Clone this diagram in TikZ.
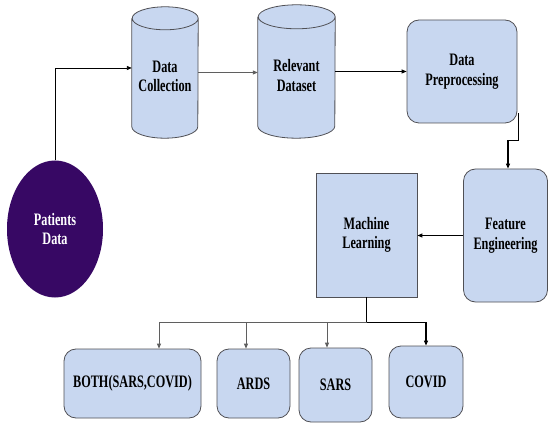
\documentclass[tikz,border=0pt]{standalone}
\usepackage{fontspec}
\setmainfont{Liberation Serif}[FakeStretch=0.7]
\usetikzlibrary{arrows.meta,shapes.geometric}
\definecolor{boxfill}{RGB}{200,215,240}
\definecolor{boxline}{RGB}{80,80,85}
\definecolor{purp}{RGB}{55,8,100}
\definecolor{linegray}{RGB}{95,95,95}
\tikzset{
  x=1pt,y=1pt,
  lbl/.style={font=\fontsize{17.5}{19.5}\selectfont\bfseries, align=center, text=black},
  rbox/.style={lbl, draw=boxline, fill=boxfill, line width=0.8pt, rounded corners=12pt, inner sep=0pt},
  sbox/.style={lbl, draw=boxline, fill=boxfill, line width=0.8pt, inner sep=0pt},
  cylbox/.style={lbl, inner sep=0pt},
  arr/.style={-{Triangle[length=5pt,width=4pt]}, line width=0.9pt, draw=black},
  arrg/.style={-{Triangle[length=5pt,width=4pt]}, line width=0.8pt, draw=linegray},
}
\newcommand{\mycyl}[4]{% node, width, height, ellipse ry
  \fill[boxfill] ([yshift=-#4]#1.north west) -- ([yshift=#4]#1.south west)
    arc[start angle=180,end angle=360,x radius=#2/2,y radius=#4]
    -- ([yshift=-#4]#1.north east)
    arc[start angle=0,end angle=180,x radius=#2/2,y radius=#4] -- cycle;
  \draw[boxline,line width=0.8pt] ([yshift=-#4]#1.north west) -- ([yshift=#4]#1.south west)
    arc[start angle=180,end angle=360,x radius=#2/2,y radius=#4]
    -- ([yshift=-#4]#1.north east)
    arc[start angle=0,end angle=360,x radius=#2/2,y radius=#4];
}
\begin{document}
\begin{tikzpicture}
\useasboundingbox[fill=white] (0,0) rectangle (548,423);
% nodes
\node[ellipse, fill=purp, minimum width=96, minimum height=137, inner sep=0pt,
      lbl, text=white] (pd) at (55,194) {Patients\\Data};
\node[cylbox, minimum width=66, minimum height=131] (dc) at (165,350.5) {};
\mycyl{dc}{66}{131}{11.5}
\node[lbl] at (dc) [yshift=-4] {Data\\Collection};
\node[cylbox, minimum width=77, minimum height=133] (rd) at (296.5,351.5) {};
\mycyl{rd}{77}{133}{12}
\node[lbl] at (rd) [yshift=-4] {Relevant\\Dataset};
\node[rbox, minimum width=110, minimum height=103] (dp) at (462,351.5) {Data\\Preprocessing};
\node[rbox, minimum width=84, minimum height=133] (fe) at (505.5,187.5) {Feature\\Engineering};
\node[sbox, minimum width=101, minimum height=124] (ml) at (366.5,188) {Machine\\Learning};
\node[rbox, minimum width=137, minimum height=69] (both) at (132.5,39.5) {BOTH(SARS,COVID)};
\node[rbox, minimum width=73, minimum height=69] (ards) at (253.5,39.5) {ARDS};
\node[rbox, minimum width=73, minimum height=74] (sars) at (335.5,38) {SARS};
\node[rbox, minimum width=74, minimum height=72] (covid) at (426,41) {COVID};
% connectors
\draw[arr] (pd.north) |- ([yshift=4.5]dc.west);
\draw[arrg] (dc.east) -- (dc.east -| rd.west);
\draw[arr] (rd.east) -- (rd.east -| dp.west);
\coordinate (dpo) at ([xshift=1,yshift=10]dp.south east);
\draw[arr, line width=1.1pt] (dpo) -- ++(0,-27) -| ([xshift=2.5]fe.north);
\draw[arr, line width=1.1pt] (fe.west) -- (fe.west -| ml.east);
\draw[line width=1.1pt] (ml.south) -- ++(0,-25) coordinate (j);
\draw[arrg] (j) -| ([xshift=26.5]both.north);
\draw[arrg] ([xshift=-7.5]j -| ards.north) -- ([xshift=-7.5]ards.north);
\draw[arrg] ([xshift=-8.5]j -| sars.north) -- ([xshift=-8.5]sars.north);
\draw[arr, line width=1.1pt] (j) -| (covid.north);
\end{tikzpicture}
\end{document}
